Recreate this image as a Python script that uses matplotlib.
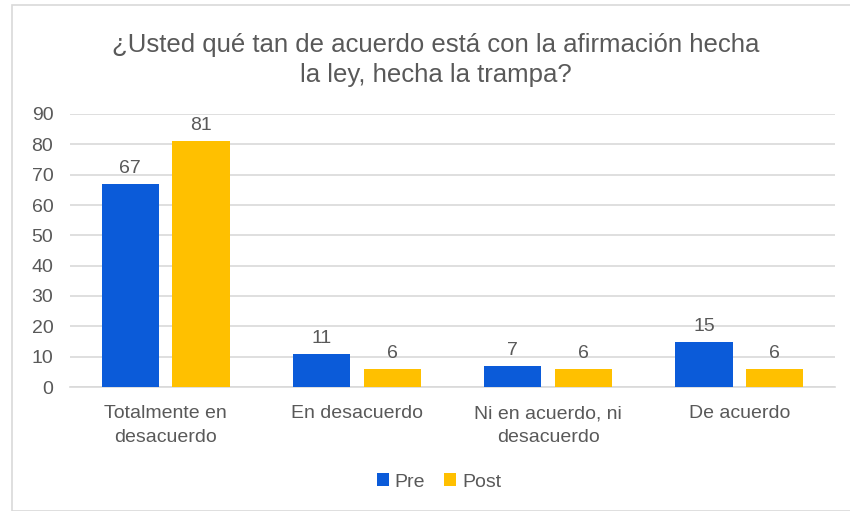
import matplotlib.pyplot as plt
import numpy as np
from matplotlib.patches import Rectangle

plt.rcParams["font.family"] = ["Liberation Sans", "DejaVu Sans"]

categories = ["Totalmente en\ndesacuerdo", "En desacuerdo", "Ni en acuerdo, ni\ndesacuerdo", "De acuerdo"]
pre = [67, 11, 7, 15]
post = [81, 6, 6, 6]
series_names = ["Pre", "Post"]
yticks = list(range(0, 100, 10))

BLUE = "#0B5BD9"
YELLOW = "#FFC000"
TEXT = "#595959"
GRID = "#D9D9D9"

fig = plt.figure(figsize=(8.5, 5.11), dpi=100)
# chart frame
fig.patches.append(Rectangle((12 / 850, 0), 1, 1 - 5 / 511, transform=fig.transFigure,
                             fill=False, edgecolor="#D9D9D9", linewidth=1.2))

ax = fig.add_axes([70 / 850, 1 - 387 / 511, 765 / 850, (387 - 114) / 511])

x = np.arange(len(categories))
w = 0.30
gap = 0.07
b1 = ax.bar(x - w / 2 - gap / 2, pre, w, color=BLUE, zorder=3, label=series_names[0])
b2 = ax.bar(x + w / 2 + gap / 2, post, w, color=YELLOW, zorder=3, label=series_names[1])

for bars in (b1, b2):
    for bar in bars:
        ax.text(bar.get_x() + bar.get_width() / 2, bar.get_height() + 2.3,
                str(int(bar.get_height())), ha="center", va="bottom",
                fontsize=14, color=TEXT)

ax.set_xlim(-0.5, len(categories) - 0.5)
ax.set_ylim(0, 90)
ax.set_yticks(yticks)
ax.yaxis.grid(True, color=GRID, linewidth=1.2, zorder=0)
ax.set_axisbelow(True)
for s in ["top", "right", "left"]:
    ax.spines[s].set_visible(False)
ax.spines["bottom"].set_color(GRID)
ax.spines["bottom"].set_linewidth(1.2)
ax.tick_params(axis="both", length=0, labelsize=14, colors=TEXT)
ax.tick_params(axis="y", pad=12)
ax.tick_params(axis="x", pad=13)
ax.set_xticks(x)
ax.set_xticklabels(categories, linespacing=1.5)

fig.text(436 / 850, 1 - 60 / 511, "¿Usted qué tan de acuerdo está con la afirmación hecha\nla ley, hecha la trampa?",
         ha="center", va="center", fontsize=18.5, color=TEXT, linespacing=1.3)

leg = fig.legend(loc="center", bbox_to_anchor=(439 / 850, 1 - 482 / 511), ncol=2, frameon=False,
                 fontsize=14, handlelength=0.6, handleheight=0.6, handletextpad=0.3,
                 columnspacing=1.0)
for t in leg.get_texts():
    t.set_color(TEXT)

fig.savefig("out.png", dpi=100)
